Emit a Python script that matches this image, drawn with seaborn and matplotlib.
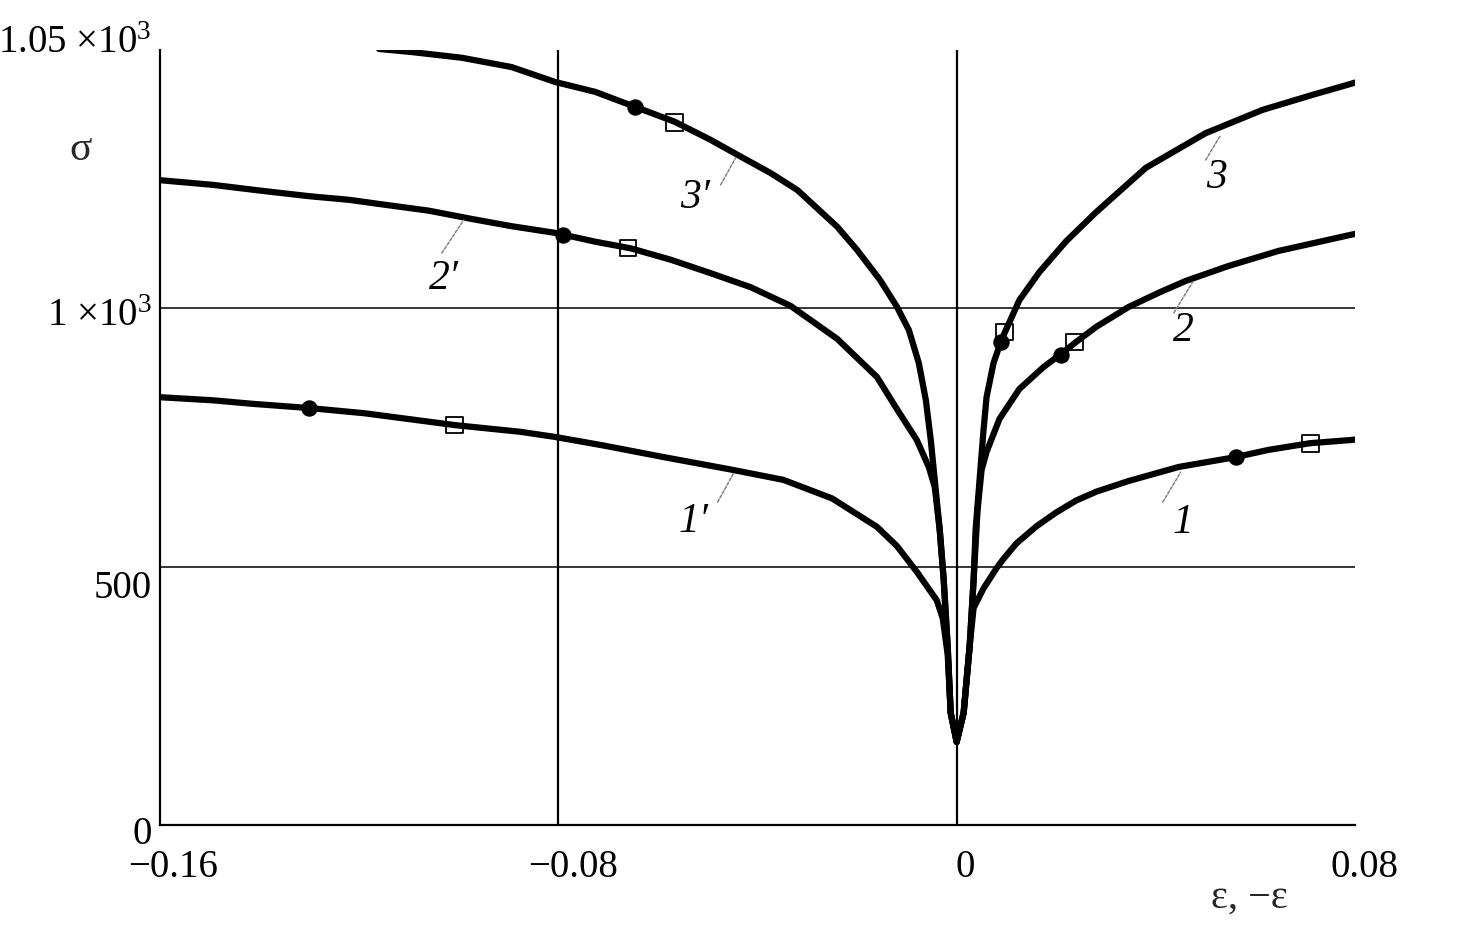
import numpy as np
import matplotlib
matplotlib.use("Agg")
import matplotlib.pyplot as plt
import matplotlib.transforms as mtransforms
import seaborn as sns

# --- data (eps, sigma) ---
# right branches (eps > 0)
eps_3 = [0, 0.0014, 0.0026, 0.0034, 0.0038, 0.0046, 0.0054, 0.006, 0.0074, 0.009,
         0.0126, 0.0166, 0.022, 0.028, 0.038, 0.05, 0.0614, 0.0714, 0.079, 0.08]
sig_3 = [161, 217, 345, 474, 571, 668, 765, 828, 894, 939,
         1016, 1070, 1130, 1186, 1272, 1339, 1384, 1413, 1434, 1437]

eps_2 = [0, 0.0014, 0.0026, 0.0034, 0.0042, 0.005, 0.006, 0.0086, 0.0126, 0.0174,
         0.0214, 0.024, 0.028, 0.0346, 0.041, 0.046, 0.0546, 0.0646, 0.079, 0.08]
sig_2 = [161, 217, 345, 474, 610, 687, 722, 786, 844, 886,
         915, 935, 964, 1003, 1032, 1053, 1082, 1111, 1142, 1144]

eps_1 = [0, 0.0014, 0.0026, 0.0034, 0.0054, 0.008, 0.0094, 0.012, 0.016, 0.02,
         0.024, 0.028, 0.0346, 0.0446, 0.056, 0.0626, 0.071, 0.079, 0.08]
sig_1 = [161, 217, 345, 420, 458, 497, 515, 545, 578, 605,
         628, 645, 666, 693, 712, 726, 739, 745, 746]

# left branches (eps < 0)
eps_3p = [-0.116, -0.1094, -0.0994, -0.0894, -0.0806, -0.0726, -0.0646, -0.0566, -0.0494,
          -0.044, -0.0374, -0.032, -0.024, -0.02, -0.0154, -0.012, -0.0096, -0.0076,
          -0.0062, -0.0052, -0.0044, -0.0034, -0.0026, -0.0018, -0.0012, 0]
sig_3p = [1502, 1496, 1485, 1467, 1438, 1419, 1390, 1361, 1326,
          1297, 1262, 1229, 1158, 1113, 1055, 1003, 958, 894,
          823, 745, 668, 571, 474, 345, 217, 161]

eps_2p = [-0.16, -0.1494, -0.14, -0.13, -0.122, -0.116, -0.106, -0.0974, -0.0894, -0.0806,
          -0.0726, -0.0654, -0.0574, -0.0494, -0.0414, -0.0334, -0.024, -0.016, -0.012,
          -0.008, -0.0056, -0.0044, -0.0034, -0.0026, -0.0018, -0.0012, 0]
sig_2p = [1248, 1239, 1228, 1217, 1210, 1202, 1189, 1173, 1159, 1146,
          1129, 1116, 1094, 1068, 1041, 1005, 941, 867, 805,
          745, 693, 654, 571, 474, 345, 217, 161]

eps_1p = [-0.16, -0.1494, -0.1412, -0.13, -0.119, -0.1008, -0.0876, -0.0806, -0.0712,
          -0.0588, -0.0448, -0.0348, -0.025, -0.016, -0.012, -0.008, -0.004, -0.0028,
          -0.0018, -0.0012, 0]
sig_1p = [828, 822, 815, 807, 797, 774, 761, 751, 735,
          712, 687, 668, 632, 577, 540, 490, 435, 400,
          330, 217, 161]

# marked points on each curve
dot_eps = [0.009, 0.021, 0.056, -0.0646, -0.079, -0.13]
dot_sig = [935, 910, 712, 1390, 1142, 807]
sq_eps = [0.0096, 0.0236, 0.071, -0.0566, -0.066, -0.1008]
sq_sig = [954, 935, 739, 1359, 1117, 774]

# axis ticks
xticks = [-0.16, -0.08, 0, 0.08]
xlabels = ["\u22120.16", "\u22120.08", "0", "0.08"]
yticks = [0, 500, 1000, 1500]
ylabels = ["0", "500", "1 \u00d7$10^{3}$", "1.05 \u00d7$10^{3}$"]
grid_x = [-0.08, 0]
grid_y = [500, 1000]

# curve labels: text, label centre, leader start, leader end
curve_labels = [
    ("3", (0.0522, 1252), (0.050, 1287), (0.053, 1335)),
    ("2", (0.0456, 956), (0.0436, 991), (0.0474, 1051)),
    ("1", (0.0454, 585), (0.0414, 625), (0.045, 683)),
    ("3\u2032", (-0.0526, 1214), (-0.0474, 1239), (-0.0444, 1291)),
    ("2\u2032", (-0.103, 1057), (-0.1034, 1107), (-0.099, 1171)),
    ("1\u2032", (-0.0528, 586), (-0.048, 625), (-0.0448, 681)),
]

sns.set_theme(style="white")
plt.rcParams["font.family"] = ["Liberation Serif", "DejaVu Serif"]
plt.rcParams["mathtext.fontset"] = "custom"
plt.rcParams["mathtext.rm"] = "Liberation Serif"
plt.rcParams["mathtext.it"] = "Liberation Serif:italic"

W, H = 1465, 927
fig = plt.figure(figsize=(W / 100, H / 100), dpi=100)
ax = fig.add_axes([160 / W, 1 - 825 / H, (1355 - 160) / W, (825 - 50) / H])

for g in grid_x:
    ax.axvline(g, color="black", lw=1.6, zorder=1)
for g in grid_y:
    ax.axhline(g, color="black", lw=1.1, zorder=1)

for e, s in [(eps_3, sig_3), (eps_2, sig_2), (eps_1, sig_1),
             (eps_3p, sig_3p), (eps_2p, sig_2p), (eps_1p, sig_1p)]:
    sns.lineplot(x=e, y=s, sort=False, estimator=None, color="black",
                 linewidth=4.5, ax=ax, zorder=2)

sns.scatterplot(x=dot_eps, y=dot_sig, marker="o", s=140, color="black",
                edgecolor="black", linewidth=0, ax=ax, zorder=3)
sns.scatterplot(x=sq_eps, y=sq_sig, marker="s", s=145, facecolor="none",
                edgecolor="black", linewidth=1.3, ax=ax, zorder=3)

for txt, pos, a, b in curve_labels:
    ax.annotate("", xy=b, xytext=a,
                arrowprops=dict(arrowstyle="-", color="0.5", lw=1.1,
                                linestyle=(0, (2, 1.2)), shrinkA=0, shrinkB=0))
    ax.text(pos[0], pos[1], txt, fontsize=30, style="italic",
            ha="center", va="center", color="black")

ax.set_xlim(-0.16, 0.08)
ax.set_ylim(0, 1500)
ax.set_xticks(xticks, xlabels)
ax.set_yticks(yticks, ylabels)
ax.tick_params(axis="both", length=0, labelsize=28, colors="black")
ax.tick_params(axis="x", pad=17)
ax.tick_params(axis="y", pad=6)

# nudge tick labels to where they sit in the original
for lab, dx in zip(ax.get_xticklabels(), [13, 15, 9, 9]):
    lab.set_transform(lab.get_transform() +
                      mtransforms.ScaledTranslation(dx / 100, 0, fig.dpi_scale_trans))
for lab, dy in zip(ax.get_yticklabels(), [-5, -17, -4, 11]):
    lab.set_transform(lab.get_transform() +
                      mtransforms.ScaledTranslation(0, dy / 100, fig.dpi_scale_trans))

for side in ["top", "right"]:
    ax.spines[side].set_visible(False)
for side in ["left", "bottom"]:
    ax.spines[side].set_color("black")
    ax.spines[side].set_linewidth(1.6)
ax.set_xlabel("")
ax.set_ylabel("")

fig.text(81 / W, 1 - 150 / H, "\u03c3", fontsize=30, ha="center", va="center")
fig.text(1249 / W, 1 - 898 / H, "\u03b5, \u2212\u03b5", fontsize=29,
         ha="center", va="center")

fig.savefig("out.png", dpi=100, facecolor="white")
